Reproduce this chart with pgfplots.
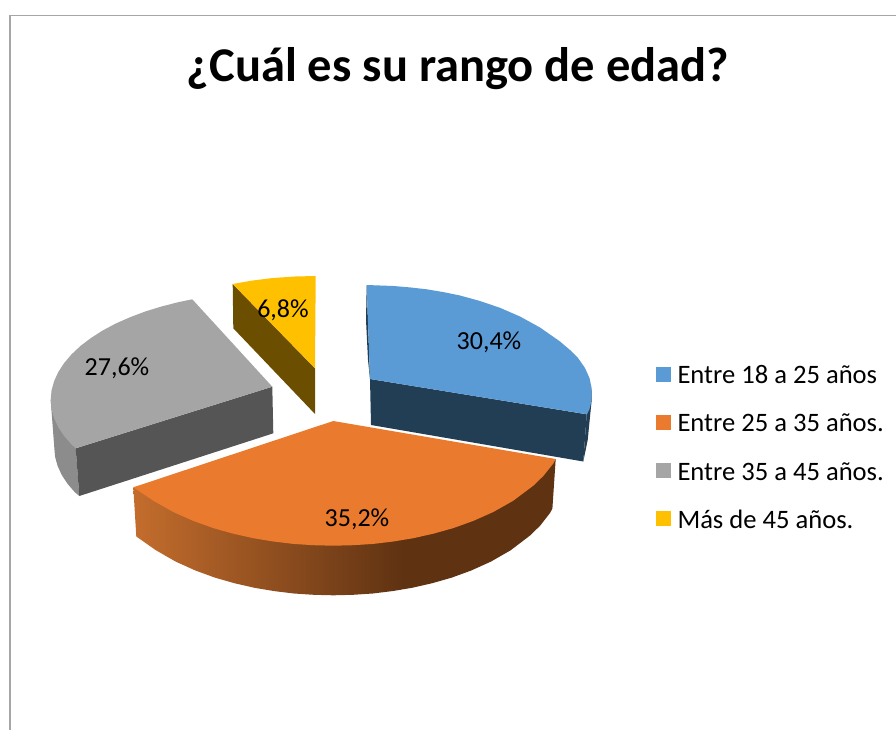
\documentclass[border=0pt]{standalone}
\usepackage{pgfplots}
\pgfplotsset{compat=1.18}
\usepackage{fontspec}
\setmainfont{Carlito}
\definecolor{cblue}{HTML}{5B9BD5}
\definecolor{cbluedk}{HTML}{223E55}
\definecolor{corange}{HTML}{EA7B2E}
\definecolor{cgray}{HTML}{A5A5A5}
\definecolor{cgraydk}{HTML}{555555}
\definecolor{cgraysd}{HTML}{8C8C8C}
\definecolor{cyellow}{HTML}{FFC000}
\definecolor{cyellowdk}{HTML}{6B4E00}
\definecolor{cframe}{HTML}{A6A6A6}
\definecolor{c1}{HTML}{C46D2D}
\definecolor{c2}{HTML}{5F3212}
\pgfdeclarehorizontalshading{orangeside}{100bp}{
  color(0bp)=(c1);
  color(25bp)=(c1);
  color(57bp)=(c2);
  color(100bp)=(c2)
}
\begin{document}
\begin{tikzpicture}
\begin{axis}[
  width=896pt,height=730pt,scale only axis,
  xmin=0,xmax=896,ymin=0,ymax=730,y dir=reverse,
  hide axis,clip=true,
  legend cell align=left,
  legend image code/.code={\path (0pt,0pt) (21.5pt,0pt);\fill[#1,draw=none] (0pt,-3.5pt) rectangle (15pt,11.5pt);},
  legend style={at={(axis cs:656,366.5)},anchor=north west,draw=none,fill=none,
    inner sep=0pt,outer sep=0pt,font=\fontsize{26.6}{30}\selectfont,
    nodes={inner sep=0pt,outer sep=0pt,text height=17pt,text depth=6pt},
    row sep=25.3pt},
]
% page extent
\addplot[draw=none,forget plot] coordinates {(0,0)(896,730)};
% frame
\addplot[cframe,line width=1.6pt,forget plot] coordinates {(10,730)(10,15.5)(896,15.5)};
% gray side faces
\addplot[fill=cgraysd,draw=none,forget plot] coordinates {(50.7,400)(54.3,447.7)(55.1,456.9)(57.6,465.9)(61.7,474.9)(67.4,483.6)(74.7,492.1)(79.3,496)(75.7,448.3)};
\addplot[fill=cgraydk,draw=none,forget plot] coordinates {(75.7,448.3)(272.3,386.7)(273.3,433.3)(79.3,496)};
% yellow side face
\addplot[fill=cyellowdk,draw=none,forget plot] coordinates {(232.7,284)(315,368.3)(315,414)(233.3,328.3)};
% blue side faces
\addplot[fill=cbluedk,draw=none,forget plot] coordinates {(366.7,285)(366,320)(368,360)(370,379)};
\addplot[fill=cbluedk,draw=none,forget plot] coordinates {(370,379)(586.7,414.3)(583.3,461.5)(371,425)};
\addplot[fill=cbluedk,draw=none,forget plot] coordinates {(591.7,388.3)(591.7,400)(590,416.7)(587.7,440)(583.3,461.5)(586.7,414.3)};
% orange side face, shaded
\addplot[shading=orangeside,shading angle=0,draw=none,forget plot] coordinates {(133.3,487.3)(136.3,536.5)(156,550.3)(175.7,561.6)(195.4,570.5)(215.1,577.7)(234.8,583.3)(254.5,587.8)(274.2,591.1)(293.9,593.5)(313.6,594.8)(333.3,595.3)(353,594.8)(372.7,593.5)(392.4,591.1)(412.1,587.8)(431.8,583.3)(451.5,577.7)(471.2,570.5)(490.9,561.6)(510.6,550.3)(530.3,535.3)(540.2,525.6)(550,513)(552.4,508.6)(555.7,459)};
% top faces
\addplot[fill=cblue,draw=none] coordinates {(370,379)(366.7,285)(393.3,286)(410,287.4)(426.7,289.3)(443,292)(460,295.5)(480,301)(500,307.8)(520,316.5)(540,327.5)(560,341.5)(570,350)(578,358)(585,368)(589.5,378)(591.7,388.3)(591.7,396)(591,403)(589.5,409)(587,414.3)};
\addlegendentry{Entre 18 a 25 años}
\addplot[fill=corange,draw=none] coordinates {(333.3,421)(133.3,487.3)(153.3,500.7)(173.3,512)(193.3,520.9)(213.3,528.1)(233.3,533.7)(253.3,538.2)(273.3,541.5)(293.3,543.9)(313.3,545.2)(333.3,545.7)(353.3,545.2)(373.3,543.9)(393.3,541.5)(413.3,538.2)(433.3,533.7)(453.3,528.1)(473.3,520.9)(493.3,512)(513.3,500.7)(533.3,485.7)(543.3,476)(553.3,463.5)(555.7,459)};
\addlegendentry{Entre 25 a 35 años.}
\addplot[fill=cgray,draw=none] coordinates {(272.3,386.7)(192.3,299.3)(178.6,302.1)(161.5,306.5)(145.2,311.5)(129.9,317.3)(115.6,323.6)(102.5,330.6)(90.8,338.1)(80.4,346)(71.5,354.4)(64.1,363.1)(58.3,372)(54.1,381.2)(51.5,390.6)(50.7,400)(51.5,409.2)(54.1,418.2)(58.3,427.2)(64.1,435.9)(71.5,444.4)(75.7,448.3)};
\addlegendentry{Entre 35 a 45 años.}
\addplot[fill=cyellow,draw=none] coordinates {(315,368.3)(232.7,284)(252,280.6)(273,278)(295,276.5)(315.7,276)};
\addlegendentry{Más de 45 años.}
% texts
\node[font=\fontsize{48.5}{54}\selectfont\bfseries] at (axis cs:458,69) {¿Cuál es su rango de edad?};
\node[font=\fontsize{26}{30}\selectfont] at (axis cs:489,342) {30,4\%};
\node[font=\fontsize{26}{30}\selectfont] at (axis cs:357,519) {35,2\%};
\node[font=\fontsize{26}{30}\selectfont] at (axis cs:117,368) {27,6\%};
\node[font=\fontsize{26}{30}\selectfont] at (axis cs:283,310) {6,8\%};
\end{axis}
\end{tikzpicture}
\end{document}
